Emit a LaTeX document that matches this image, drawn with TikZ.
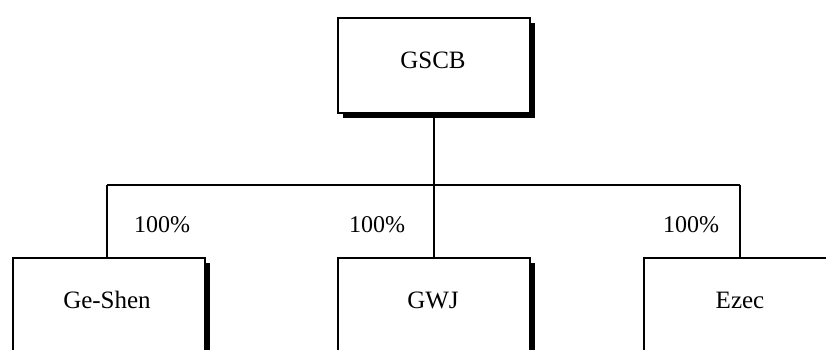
\documentclass[tikz,border=0pt]{standalone}
\usepackage{fontspec}
\setmainfont{Liberation Serif}
\usetikzlibrary{shadows}
\begin{document}
\begin{tikzpicture}[x=1pt,y=-1pt,
  box/.style={draw=black, line width=1.6pt, fill=white, anchor=north west,
    minimum width=192pt, minimum height=95pt, inner sep=0pt,
    drop shadow={shadow xshift=5pt, shadow yshift=-5pt, fill=black, opacity=1}},
  lbl/.style={font=\fontsize{25}{30}\selectfont, inner sep=0pt},
  pct/.style={font=\fontsize{24}{29}\selectfont, inner sep=0pt},
  conn/.style={line width=1.6pt}]
\useasboundingbox (0,0) rectangle (826,350);
\clip (0,0) rectangle (826,350);
% boxes
\node[box] (gscb) at (337,17) {};
\node[box, minimum height=120pt] (geshen) at (12,257) {};
\node[box, minimum height=120pt] (gwj) at (337,257) {};
\node[box, minimum height=120pt] (ezec) at (643,257) {};
% texts
\node[lbl] (tgscb) at (433,60) {GSCB};
\node[lbl] (tgeshen) at (107,300) {Ge-Shen};
\node[lbl] (tgwj) at (433,300) {GWJ};
\node[lbl] (tezec) at (740,300) {Ezec};
% connectors
\coordinate (bl) at (107,185);
\coordinate (br) at (740,185);
\draw[conn] (bl) -- (br);
\draw[conn] (gscb.south) -- (gwj.north);
\draw[conn] (bl) -- (bl |- geshen.north);
\draw[conn] (br) -- (br |- ezec.north);
% percentages
\node[pct] (p1) at (162,225) {100\%};
\node[pct] (p2) at (377,225) {100\%};
\node[pct] (p3) at (691,225) {100\%};
\end{tikzpicture}
\end{document}
